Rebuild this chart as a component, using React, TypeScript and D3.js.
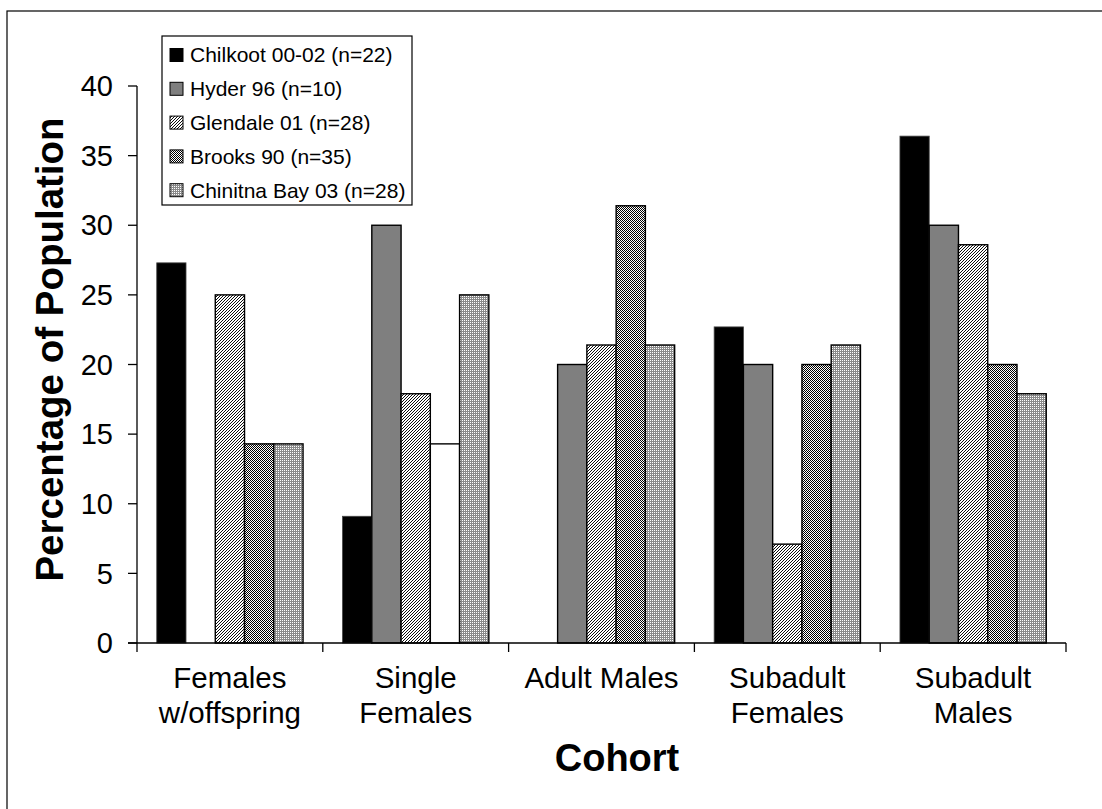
import React from "react";
import * as d3 from "d3";

const categories: string[][] = [
  ["Females", "w/offspring"],
  ["Single", "Females"],
  ["Adult Males"],
  ["Subadult", "Females"],
  ["Subadult", "Males"],
];
const seriesNames = [
  "Chilkoot 00-02 (n=22)",
  "Hyder 96 (n=10)",
  "Glendale 01 (n=28)",
  "Brooks 90 (n=35)",
  "Chinitna Bay 03 (n=28)",
];
const chilkoot = [27.3, 9.1, 0, 22.7, 36.4];
const hyder = [0, 30, 20, 20, 30];
const glendale = [25, 17.9, 21.4, 7.1, 28.6];
const brooks = [14.3, 14.3, 31.4, 20, 20];
const chinitna = [14.3, 25, 21.4, 21.4, 17.9];
const seriesValues = [chilkoot, hyder, glendale, brooks, chinitna];
// bars drawn without fill in the original (series index, category index)
const hollowBars: [number, number][] = [[3, 1]];
const yTicks = [0, 5, 10, 15, 20, 25, 30, 35, 40];

const fills = ["#000000", "#7f7f7f", "url(#pGlendale)", "url(#pBrooks)", "url(#pChinitna)"];

const FONT = "'Liberation Sans', Arial, Helvetica, sans-serif";

export default function App() {
  const left = 137, right = 1066, top = 86, bottom = 643;
  const y = d3.scaleLinear().domain([0, 40]).range([bottom, top]);
  const x0 = d3.scaleBand<number>().domain(d3.range(categories.length)).range([left, right]).padding(0);
  const x1 = d3
    .scaleBand<number>()
    .domain(d3.range(seriesNames.length))
    .range([0, x0.bandwidth()])
    .paddingInner(0)
    .paddingOuter(0.675);

  return (
    <svg
      width={1102}
      height={809}
      style={{ position: "absolute", left: 0, top: 0, background: "#fff" }}
      fontFamily={FONT}
    >
      <defs>
        <pattern id="pGlendale" width={3} height={3} patternUnits="userSpaceOnUse">
          <rect width={3} height={3} fill="#fff" />
          <path d="M-1,1 l2,-2 M0,3 l3,-3 M2,4 l2,-2" stroke="#000" strokeWidth={0.95} />
        </pattern>
        <pattern id="pBrooks" width={2} height={2} patternUnits="userSpaceOnUse">
          <rect width={2} height={2} fill="#fff" />
          <rect width={1} height={1} fill="#000" />
          <rect x={1} y={1} width={1} height={1} fill="#000" />
        </pattern>
        <pattern id="pChinitna" width={2} height={2} patternUnits="userSpaceOnUse">
          <rect width={2} height={2} fill="#8a8a8a" />
          <rect width={1} height={1} fill="#fff" />
        </pattern>
      </defs>
      <rect x={7} y={11} width={1100} height={800} fill="#fff" stroke="#000" strokeWidth={1.2} />

      {/* bars */}
      {seriesValues.map((vals, si) =>
        vals.map((v, ci) => {
          if (v <= 0) return null;
          const hollow = hollowBars.some(([s, c]) => s === si && c === ci);
          return (
            <rect
              key={`${si}-${ci}`}
              x={(x0(ci) as number) + (x1(si) as number)}
              y={y(v)}
              width={x1.bandwidth()}
              height={y(0) - y(v)}
              fill={hollow ? "#fff" : fills[si]}
              stroke={si === 0 ? "#444" : "#000"}
              strokeWidth={si === 0 ? 0.8 : 1.4}
            />
          );
        })
      )}

      {/* y axis */}
      <line x1={left} x2={left} y1={top} y2={bottom} stroke="#000" strokeWidth={1.3} />
      {yTicks.map((t) => (
        <g key={t}>
          <line x1={left - 9} x2={left} y1={y(t)} y2={y(t)} stroke="#000" strokeWidth={1.3} />
          <text x={113} y={y(t)} dy="0.35em" textAnchor="end" fontSize={29}>
            {t}
          </text>
        </g>
      ))}

      {/* x axis */}
      <line x1={left - 9} x2={right} y1={bottom} y2={bottom} stroke="#000" strokeWidth={1.3} />
      {d3.range(categories.length + 1).map((i) => {
        const xx = left + i * x0.bandwidth();
        return <line key={i} x1={xx} x2={xx} y1={bottom} y2={bottom + 9} stroke="#000" strokeWidth={1.3} />;
      })}
      {categories.map((lines, ci) => (
        <text
          key={ci}
          x={(x0(ci) as number) + x0.bandwidth() / 2}
          y={688}
          textAnchor="middle"
          fontSize={29.5}
        >
          {lines.map((l, li) => (
            <tspan key={li} x={(x0(ci) as number) + x0.bandwidth() / 2} dy={li === 0 ? 0 : 35}>
              {l}
            </tspan>
          ))}
        </text>
      ))}

      {/* axis titles */}
      <text x={617} y={771} textAnchor="middle" fontSize={38} fontWeight="bold">
        Cohort
      </text>
      <text
        transform={`translate(63,${(top + bottom) / 2 - 15}) rotate(-90)`}
        textAnchor="middle"
        fontSize={38.5}
        fontWeight="bold"
      >
        Percentage of Population
      </text>

      {/* legend */}
      <rect x={162} y={36} width={250} height={169} fill="#fff" stroke="#000" strokeWidth={1.2} />
      {seriesNames.map((name, i) => {
        const cy = 55 + i * 33.8;
        return (
          <g key={name}>
            <rect x={170} y={cy - 6.5} width={13} height={13} fill={fills[i]} stroke="#000" strokeWidth={1} />
            <text x={190} y={cy} dy="0.35em" fontSize={21}>
              {name}
            </text>
          </g>
        );
      })}
    </svg>
  );
}
